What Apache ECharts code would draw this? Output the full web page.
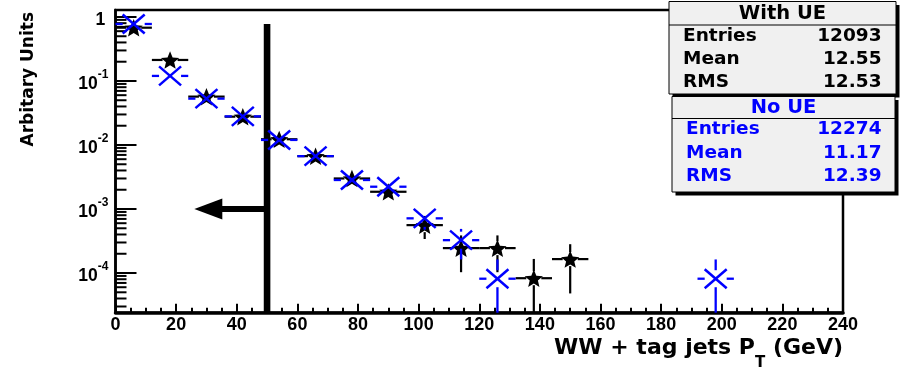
<!DOCTYPE html>
<html>
<head>
<meta charset="utf-8">
<script src="https://cdn.jsdelivr.net/npm/echarts@6/dist/echarts.min.js"></script>
<style>
  html, body { margin: 0; padding: 0; background: #fff; }
  #chart { width: 903px; height: 367px; }
</style>
</head>
<body>
<div id="chart"></div>
<script>
// Normalised pT spectra of the WW + tag-jet system, 12 GeV bins (bin centres in GeV)
const binWidth = 12;

const withUEBins   = [6, 18, 30, 42, 54, 66, 78, 90, 102, 114, 126, 138, 150];
const withUEValues = [0.68, 0.213, 0.057, 0.0277, 0.0123, 0.0067, 0.0030, 0.00186, 5.6e-4, 2.45e-4, 2.45e-4, 8.3e-5, 1.65e-4];
const withUEErrors = [0.0075, 0.0042, 0.0022, 0.0015, 0.0010, 0.00074, 0.0005, 0.00039, 2.2e-4, 1.42e-4, 1.42e-4, 8.3e-5, 1.17e-4];

const noUEBins   = [6, 18, 30, 42, 54, 66, 78, 90, 102, 114, 126, 198];
const noUEValues = [0.777, 0.12, 0.053, 0.028, 0.012, 0.0067, 0.00284, 0.00223, 7.15e-4, 3.26e-4, 8.15e-5, 8.15e-5];
const noUEErrors = [0.0078, 0.0031, 0.0021, 0.0015, 0.00099, 0.00074, 0.00048, 0.00043, 2.4e-4, 1.63e-4, 8.15e-5, 8.15e-5];

// Axis ranges and ticks
const xRange = [0, 240];
const xTickStep = 20;
const yRange = [2.4e-5, 1.285];
const yTickPowers = [0, -1, -2, -3, -4];
const yMinorMultipliers = [2, 3, 4, 5, 6, 7, 8, 9];

// Cut at 50 GeV with arrow pointing to the kept region
const cutValue = 50;
const cutLineTop = 0.78;
const arrowLevel = 1e-3;
const arrowTip = 26;

// Statistics boxes
const statsWithUE = [['Entries', '12093'], ['Mean', '12.55'], ['RMS', '12.53']];
const statsNoUE   = [['Entries', '12274'], ['Mean', '11.17'], ['RMS', '12.39']];

const BLUE = '#0000ff';
const TICK_FONT = 'Liberation Sans, Arial, Helvetica, sans-serif';
const TITLE_FONT = 'DejaVu Sans, Verdana, sans-serif';

// minor log ticks 2..9 x 10^n inside the y range
const yMinorTicks = [];
for (let p = -5; p <= 0; p++) {
  yMinorMultipliers.forEach(m => {
    const v = m * Math.pow(10, p);
    if (v > yRange[0] && v < yRange[1]) yMinorTicks.push([xRange[0], v]);
  });
}

function zip(xs, ys, es) { return xs.map((x, i) => [x, ys[i], es[i]]); }

// Histogram points: bin-width horizontal bars and vertical errors, both leaving a gap for the marker
function histRender(kind) {
  const st = kind === 'star'
    ? { gx: 7.5, gy: 7, color: '#000', w: 2.2 }
    : { gx: 11, gy: 8.5, color: BLUE, w: 2.3 };
  return function (params, api) {
    const x = api.value(0), y = api.value(1), e = api.value(2);
    const c = api.coord([x, y]);
    const xl = api.coord([x - binWidth / 2, y])[0];
    const xr = api.coord([x + binWidth / 2, y])[0];
    const bottom = params.coordSys.y + params.coordSys.height;
    const yTop = api.coord([x, y + e])[1];
    const yBot = (y - e) > yRange[0] ? api.coord([x, y - e])[1] : bottom;
    const children = [];
    const seg = (x1, y1, x2, y2) => children.push({
      type: 'line', shape: { x1, y1, x2, y2 },
      style: { stroke: st.color, lineWidth: st.w }
    });
    if (c[0] - st.gx > xl) seg(xl, c[1], c[0] - st.gx, c[1]);
    if (xr > c[0] + st.gx) seg(c[0] + st.gx, c[1], xr, c[1]);
    if (c[1] - st.gy > yTop) seg(c[0], yTop, c[0], c[1] - st.gy);
    if (yBot > c[1] + st.gy) seg(c[0], c[1] + st.gy, c[0], yBot);
    if (kind === 'star') {
      const pts = [];
      for (let i = 0; i < 10; i++) {
        const a = -Math.PI / 2 + i * Math.PI / 5;
        const r = i % 2 ? 4.3 : 9.6;
        pts.push([c[0] + r * Math.cos(a), c[1] + 1 + r * Math.sin(a)]);
      }
      children.push({ type: 'polygon', shape: { points: pts }, style: { fill: '#000' } });
    } else {
      const hx = 11, hy = 9.5;
      children.push({ type: 'line', shape: { x1: c[0] - hx, y1: c[1] - hy, x2: c[0] + hx, y2: c[1] + hy },
        style: { stroke: BLUE, lineWidth: 2.5 } });
      children.push({ type: 'line', shape: { x1: c[0] - hx, y1: c[1] + hy, x2: c[0] + hx, y2: c[1] - hy },
        style: { stroke: BLUE, lineWidth: 2.5 } });
    }
    return { type: 'group', children };
  };
}

function cutRender(params, api) {
  const top = api.coord([api.value(0), api.value(1)]);
  const bottom = params.coordSys.y + params.coordSys.height;
  const tip = api.coord([api.value(2), api.value(3)]);
  const headLen = 28, headHalf = 10.5;
  return {
    type: 'group',
    children: [
      { type: 'rect', shape: { x: top[0] - 3.3, y: top[1], width: 6.6, height: bottom - top[1] }, style: { fill: '#000' } },
      { type: 'rect', shape: { x: tip[0] + headLen - 1, y: tip[1] - 3, width: top[0] - tip[0] - headLen + 1, height: 6 }, style: { fill: '#000' } },
      { type: 'polygon', shape: { points: [[tip[0], tip[1]], [tip[0] + headLen, tip[1] - headHalf], [tip[0] + headLen, tip[1] + headHalf]] }, style: { fill: '#000' } }
    ]
  };
}

function minorTickRender(params, api) {
  const p = api.coord([api.value(0), api.value(1)]);
  return { type: 'line', shape: { x1: p[0], y1: p[1], x2: p[0] + 11, y2: p[1] }, style: { stroke: '#000', lineWidth: 2 } };
}

// Stats box drawn as graphic elements
function statsBox(x, y, w, h, headerH, title, rows, color) {
  const els = [
    { type: 'rect', shape: { x: x + 3.5, y: y + 3.5, width: w, height: h }, style: { fill: '#000' }, z: 100 },
    { type: 'rect', shape: { x, y, width: w, height: h }, style: { fill: '#f0f0f0', stroke: '#000', lineWidth: 1 }, z: 101 },
    { type: 'line', shape: { x1: x, y1: y + headerH, x2: x + w, y2: y + headerH }, style: { stroke: '#000', lineWidth: 1 }, z: 102 },
    { type: 'text', x: x + w / 2, y: y + headerH / 2 + 0.5, z: 103,
      style: { text: title, fill: color, font: 'bold 19.5px ' + TITLE_FONT, align: 'center', verticalAlign: 'middle' } }
  ];
  rows.forEach((r, i) => {
    const ry = y + headerH + 11 + i * 23.3;
    els.push({ type: 'text', x: x + 14, y: ry, z: 103,
      style: { text: r[0], fill: color, font: 'bold 18.5px ' + TITLE_FONT, align: 'left', verticalAlign: 'middle' } });
    els.push({ type: 'text', x: 881.5, y: ry, z: 103,
      style: { text: r[1], fill: color, font: 'bold 18.5px ' + TITLE_FONT, align: 'right', verticalAlign: 'middle' } });
  });
  return els;
}

const chart = echarts.init(document.getElementById('chart'), null, { renderer: 'canvas' });

chart.setOption({
  animation: false,
  backgroundColor: '#fff',
  grid: {
    left: 115.5, right: 60, top: 10, bottom: 54.3,
    outerBoundsMode: 'none', containLabel: false,
    show: true, borderColor: '#000', borderWidth: 2.5, backgroundColor: 'transparent'
  },
  xAxis: {
    type: 'value', min: xRange[0], max: xRange[1], interval: xTickStep,
    splitLine: { show: false },
    axisLine: { lineStyle: { color: '#000', width: 3.5 } },
    axisTick: { inside: true, length: 9, lineStyle: { color: '#000', width: 2 } },
    minorTick: { show: true, splitNumber: 4, length: 5, lineStyle: { color: '#000', width: 2 } },
    minorSplitLine: { show: false },
    axisLabel: { color: '#000', fontFamily: TICK_FONT, fontWeight: 'bold', fontSize: 18, margin: 3 },
    name: '{m|WW + tag jets P}{s|T}{m| (GeV)}',
    nameLocation: 'end', nameGap: 0,
    nameTextStyle: {
      align: 'right', verticalAlign: 'top', padding: [25, 0, 0, 0],
      rich: {
        m: { fontFamily: TITLE_FONT, fontWeight: 'bold', fontSize: 22, color: '#000', lineHeight: 33, verticalAlign: 'top' },
        s: { fontFamily: TITLE_FONT, fontWeight: 'bold', fontSize: 15, color: '#000', lineHeight: 33, verticalAlign: 'bottom' }
      }
    }
  },
  yAxis: {
    type: 'log', logBase: 10, min: yRange[0], max: yRange[1],
    splitLine: { show: false },
    axisLine: { lineStyle: { color: '#000', width: 2.5 } },
    axisTick: { inside: true, length: 21, lineStyle: { color: '#000', width: 2 } },
    axisLabel: {
      margin: 7,
      formatter: v => {
        const p = Math.log10(v), r = Math.round(p);
        if (Math.abs(p - r) > 1e-6 || yTickPowers.indexOf(r) < 0) return '';
        return r === 0 ? '{b|1}{s| }' : '{b|10}{s|' + r + '}';
      },
      rich: {
        b: { fontFamily: TICK_FONT, fontWeight: 'bold', fontSize: 17.5, color: '#000', lineHeight: 15, verticalAlign: 'bottom' },
        s: { fontFamily: TICK_FONT, fontWeight: 'bold', fontSize: 12, color: '#000', lineHeight: 25, verticalAlign: 'top' }
      }
    }
  },
  graphic: [
    { type: 'text', x: 29, y: 12, rotation: Math.PI / 2, z: 100,
      style: { text: 'Arbitary Units', fill: '#000', font: 'bold 17px ' + TITLE_FONT, align: 'right', verticalAlign: 'middle' } },
    ...statsBox(669, 1.5, 227, 92.5, 23.5, 'With UE', statsWithUE, '#000'),
    ...statsBox(672, 96.5, 223, 95.5, 22, 'No UE', statsNoUE, BLUE)
  ],
  series: [
    { type: 'custom', name: 'yMinorTicks', renderItem: minorTickRender, data: yMinorTicks, encode: { x: 0, y: 1 }, silent: true, z: 1 },
    { type: 'custom', name: 'cut', renderItem: cutRender, data: [[cutValue, cutLineTop, arrowTip, arrowLevel]], encode: { x: 0, y: 1 }, z: 2 },
    { type: 'custom', name: 'With UE', renderItem: histRender('star'), data: zip(withUEBins, withUEValues, withUEErrors), encode: { x: 0, y: 1 }, z: 3 },
    { type: 'custom', name: 'No UE', renderItem: histRender('x'), data: zip(noUEBins, noUEValues, noUEErrors), encode: { x: 0, y: 1 }, z: 4 }
  ]
});
</script>
</body>
</html>
